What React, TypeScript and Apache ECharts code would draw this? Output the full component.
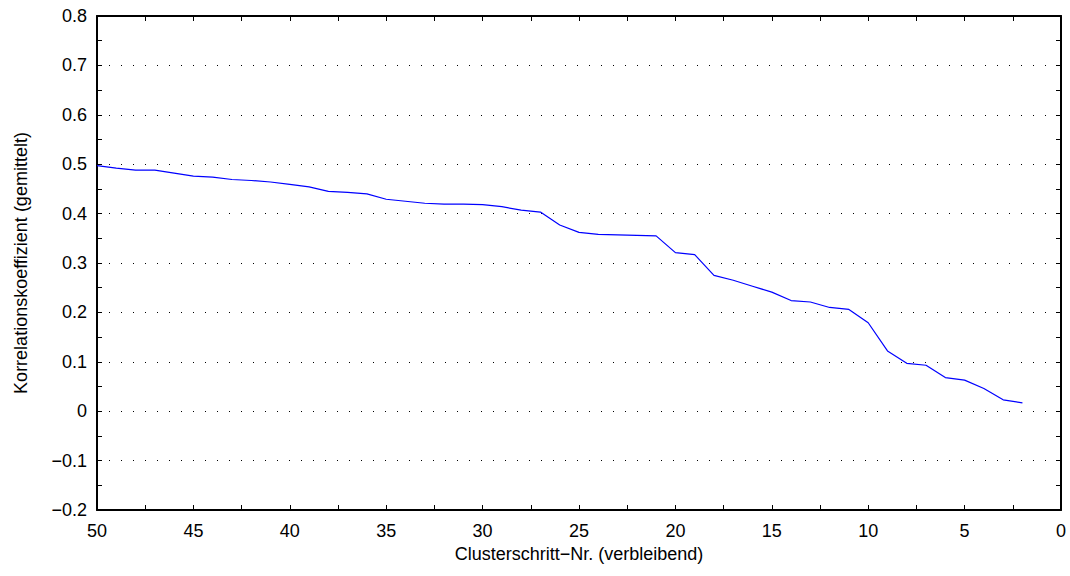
import React, { useEffect, useRef } from "react";
import * as echarts from "echarts";

const steps: number[] = [50, 49, 48, 47, 46, 45, 44, 43, 42, 41, 40, 39, 38, 37, 36, 35, 34, 33, 32, 31, 30, 29, 28, 27, 26, 25, 24, 23, 22, 21, 20, 19, 18, 17, 16, 15, 14, 13, 12, 11, 10, 9, 8, 7, 6, 5, 4, 3, 2];
const correlation: number[] = [0.497, 0.492, 0.488, 0.488, 0.482, 0.476, 0.474, 0.469, 0.467, 0.464, 0.459, 0.454, 0.445, 0.443, 0.44, 0.429, 0.425, 0.421, 0.419, 0.419, 0.418, 0.414, 0.407, 0.403, 0.377, 0.362, 0.358, 0.357, 0.356, 0.355, 0.321, 0.317, 0.275, 0.265, 0.253, 0.241, 0.224, 0.221, 0.21, 0.206, 0.179, 0.122, 0.097, 0.093, 0.068, 0.063, 0.046, 0.023, 0.017];

const xTitle = "Clusterschritt\u2212Nr. (verbleibend)";
const yTitle = "Korrelationskoeffizient (gemittelt)";

const FONT = "'Liberation Sans', Arial, Helvetica, sans-serif";
const FS = 18;

export default function App() {
  const ref = useRef<HTMLDivElement>(null);
  useEffect(() => {
    if (!ref.current) return;
    const chart = echarts.init(ref.current, undefined, { renderer: "svg" });
    const axisLine = { show: true, onZero: false, lineStyle: { color: "#000", width: 2 } };
    const tick = { show: true, inside: true, length: 5, lineStyle: { color: "#000", width: 1 } };
    const minor = { show: true, splitNumber: 2, length: 5, lineStyle: { color: "#000", width: 1 } };
    const xCommon = {
      type: "value",
      min: 0,
      max: 50,
      interval: 5,
      inverse: true,
      axisLine,
      axisTick: tick,
      minorTick: minor,
      splitLine: { show: false },
      minorSplitLine: { show: false },
    };
    const yCommon = {
      type: "value",
      min: -0.2,
      max: 0.8,
      interval: 0.1,
      axisLine,
      axisTick: tick,
      minorTick: minor,
      minorSplitLine: { show: false },
    };
    chart.setOption({
      animation: false,
      backgroundColor: "#fff",
      textStyle: { fontFamily: FONT },
      grid: { left: 97, right: 9, top: 16, bottom: 66, containLabel: false, outerBoundsMode: "none" },
      xAxis: [
        {
          ...xCommon,
          position: "bottom",
          name: xTitle,
          nameLocation: "middle",
          nameGap: 32,
          nameTextStyle: { fontFamily: FONT, fontSize: FS, color: "#000" },
          axisLabel: { show: true, fontFamily: FONT, fontSize: FS, color: "#000", margin: 12 },
        },
        {
          ...xCommon,
          position: "top",
          axisLabel: { show: false },
        },
      ],
      yAxis: [
        {
          ...yCommon,
          position: "left",
          name: yTitle,
          nameLocation: "middle",
          nameGap: 67,
          nameRotate: 90,
          nameTextStyle: { fontFamily: FONT, fontSize: FS, color: "#000" },
          axisLabel: {
            show: true,
            fontFamily: FONT,
            fontSize: FS,
            color: "#000",
            margin: 10,
            formatter: (v: number) => {
              if (Math.abs(v) < 1e-9) return "0";
              return (v < 0 ? "\u2212" : "") + Math.abs(v).toFixed(1);
            },
          },
          splitLine: { show: true, lineStyle: { color: "#000", width: 1, type: [1, 11] } },
        },
        {
          ...yCommon,
          position: "right",
          axisLabel: { show: false },
          splitLine: { show: false },
        },
      ],
      series: [
        {
          type: "line",
          xAxisIndex: 0,
          yAxisIndex: 0,
          data: steps.map((s, i) => [s, correlation[i]]),
          showSymbol: false,
          symbol: "none",
          lineStyle: { color: "#0000ff", width: 1.2 },
          itemStyle: { color: "#0000ff" },
        },
      ],
    });
    return () => chart.dispose();
  }, []);
  return (
    <div
      ref={ref}
      style={{ position: "absolute", left: 0, top: 0, width: 1070, height: 576, background: "#fff" }}
    />
  );
}
